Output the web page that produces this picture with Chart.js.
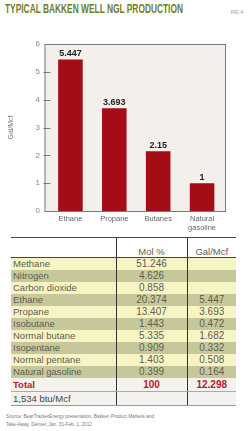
<!DOCTYPE html>
<html>
<head>
<meta charset="utf-8">
<script src="https://cdn.jsdelivr.net/npm/chart.js@4/dist/chart.umd.min.js"></script>
<style>
  html, body { margin: 0; padding: 0; background: #fff; }
  body { width: 250px; height: 431px; position: relative; overflow: hidden; font-family: "Liberation Sans", Arial, sans-serif; }
  .squeeze { position: absolute; white-space: nowrap; transform-origin: 0 0; }
  #title { left: 5px; top: 2px; font-weight: bold; font-size: 12.5px; color: #6e7d24; }
  #fig { left: 231px; top: 9px; font-size: 5.5px; color: #888; }
  #wrap { position: absolute; left: 0; top: 30px; width: 250px; height: 202px; }
  table { position: absolute; left: 11px; top: 237px; width: 225px; border-collapse: collapse; table-layout: fixed; font-size: 9.5px; color: #5e5e52; }
  td { padding: 0 0 0 2px; height: 12px; line-height: 12px; white-space: nowrap; }
  td.v { text-align: center; padding: 0; border-left: 1px solid #333; font-size: 10px; }
  tr.head td { height: 19px; line-height: 11px; vertical-align: bottom; background: #fff; border-top: 1px solid #444; border-bottom: 1px solid #444; font-size: 9.5px; }
  tr.y td { background: #f7f4c3; }
  tr.g td { background: #c6c89c; }
  tr.tot td { background: #f4f2ee; color: #b3192c; font-weight: bold; height: 13px; border-bottom: 1px solid #aaa; }
  tr.btu td { background: #f4f2ee; height: 13px; border-bottom: 1px solid #999; color: #444; }
  #src { left: 6px; top: 413px; font-size: 5.5px; line-height: 7.5px; color: #777; }
</style>
</head>
<body>
<div id="title" class="squeeze" data-w="178">TYPICAL BAKKEN WELL NGL PRODUCTION</div>
<div id="fig" class="squeeze" data-w="12">FIG. 4</div>
<div id="wrap"><canvas id="chart"></canvas></div>
<table id="tbl"></table>
<div id="src" class="squeeze" data-w="148">Source: BearTrackerEnergy presentation, Bakken Product Markets and<br>Take-Away, Denver, Jan. 31-Feb. 1, 2012</div>
<script>
// Chart data
const categories = [['Ethane'], ['Propane'], ['Butanes'], ['Natural', 'gasoline']];
const galPerMcf = [5.447, 3.693, 2.15, 1];
const valueLabels = ['5.447', '3.693', '2.15', '1'];
const yTicks = [0, 1, 2, 3, 4, 5, 6];

// Table data
const components = ['Methane', 'Nitrogen', 'Carbon dioxide', 'Ethane', 'Propane', 'Isobutane',
  'Normal butane', 'Isopentane', 'Normal pentane', 'Natural gasoline'];
const molPct = ['51.246', '4.626', '0.858', '20.374', '13.407', '1.443', '5.335', '0.909', '1.403', '0.399'];
const galCol = ['', '', '', '5.447', '3.693', '0.472', '1.682', '0.332', '0.508', '0.164'];
const totals = ['Total', '100', '12.298'];
const heatValue = '1,534 btu/Mcf';

// condensed text: squeeze to the width seen in the figure
document.querySelectorAll('.squeeze').forEach(el => {
  const w = el.getBoundingClientRect().width;
  el.style.transform = 'scaleX(' + (parseFloat(el.dataset.w) / w) + ')';
});

// build the table
const tbl = document.getElementById('tbl');
let html = '<colgroup><col style="width:105px"><col style="width:71px"><col style="width:49px"></colgroup>';
html += '<tr class="head"><td></td><td class="v">Mol %</td><td class="v">Gal/Mcf</td></tr>';
components.forEach((c, i) => {
  html += '<tr class="' + (i % 2 ? 'g' : 'y') + '"><td>' + c + '</td><td class="v">' + molPct[i] +
    '</td><td class="v">' + galCol[i] + '</td></tr>';
});
html += '<tr class="tot"><td>' + totals[0] + '</td><td class="v">' + totals[1] + '</td><td class="v">' + totals[2] + '</td></tr>';
html += '<tr class="btu"><td>' + heatValue + '</td><td class="v"></td><td class="v"></td></tr>';
tbl.innerHTML = html;

// plot frame, background and inner ticks
const framePlugin = {
  id: 'frame',
  beforeDatasetsDraw(chart) {
    const { ctx, chartArea: a, scales } = chart;
    const l = a.left - 4, r = a.right + 2;
    ctx.save();
    ctx.fillStyle = '#f3f0ec';
    ctx.fillRect(l, a.top, r - l, a.bottom - a.top);
    ctx.strokeStyle = '#7a7a7a';
    ctx.lineWidth = 1;
    ctx.strokeRect(l + 0.5, a.top + 0.5, r - l - 1, a.bottom - a.top);
    yTicks.forEach(v => {
      if (v === 0 || v === 6) return;
      const y = Math.round(scales.y.getPixelForValue(v)) + 0.5;
      ctx.beginPath();
      ctx.moveTo(l - 1, y);
      ctx.lineTo(l + 6, y);
      ctx.stroke();
    });
    ctx.restore();
  },
  afterDatasetsDraw(chart) {
    const { ctx } = chart;
    const meta = chart.getDatasetMeta(0);
    ctx.save();
    ctx.font = 'bold 9px "Liberation Sans", Arial, sans-serif';
    ctx.fillStyle = '#222';
    ctx.textAlign = 'center';
    ctx.textBaseline = 'bottom';
    meta.data.forEach((bar, i) => {
      ctx.fillText(valueLabels[i], bar.x, bar.y - 1.5);
    });
    ctx.restore();
  }
};

const ctx = document.getElementById('chart').getContext('2d');
const chart = new Chart(ctx, {
  type: 'bar',
  data: {
    labels: categories,
    datasets: [{
      data: galPerMcf,
      backgroundColor: '#a50d16',
      borderWidth: 0,
      barPercentage: 0.56,
      categoryPercentage: 1
    }]
  },
  options: {
    responsive: true,
    maintainAspectRatio: false,
    animation: false,
    layout: { padding: { top: 14, right: 26, left: 0, bottom: 0 } },
    plugins: { legend: { display: false }, tooltip: { enabled: false } },
    scales: {
      y: {
        min: 0,
        max: 6,
        afterFit(scale) { scale.width = 48.5; },
        afterBuildTicks(scale) { scale.ticks = yTicks.map(v => ({ value: v })); },
        grid: { display: false, drawTicks: false },
        border: { display: false },
        ticks: {
          color: '#888',
          padding: 8.5,
          font: { size: 8, family: '"Liberation Sans", Arial, sans-serif' }
        },
        title: {
          display: true,
          text: 'Gal/Mcf',
          color: '#777',
          padding: { top: 7, bottom: 0 },
          font: { size: 7, family: '"Liberation Sans", Arial, sans-serif' }
        }
      },
      x: {
        afterFit(scale) { scale.height = 21; },
        grid: { display: false, drawTicks: false },
        border: { display: false },
        ticks: {
          color: '#666',
          padding: 3,
          maxRotation: 0,
          font: { size: 7.5, family: '"Liberation Sans", Arial, sans-serif', lineHeight: 1.2 }
        }
      }
    }
  },
  plugins: [framePlugin]
});
</script>
</body>
</html>
